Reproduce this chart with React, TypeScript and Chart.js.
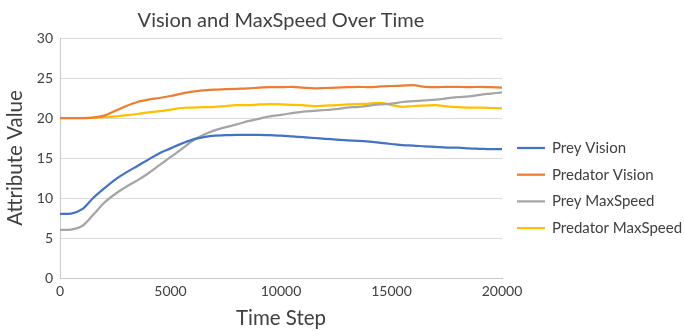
import React, { useEffect, useRef } from "react";
import { Chart, registerables } from "chart.js";

Chart.register(...registerables);

const chartTitle = "Vision and MaxSpeed Over Time";
const xAxisTitle = "Time Step";
const yAxisTitle = "Attribute Value";

const timeSteps = [
  0, 500, 1000, 1500, 2000, 2500, 3000, 3500, 4000, 4500, 5000, 5500, 6000, 6500,
  7000, 7500, 8000, 8500, 9000, 9500, 10000, 10500, 11000, 11500, 12000, 12500,
  13000, 13500, 14000, 14500, 15000, 15500, 16000, 16500, 17000, 17500, 18000,
  18500, 19000, 19500, 20000,
];

const preyVision = [
  8.0, 8.05, 8.6, 10.0, 11.2, 12.3, 13.2, 14.0, 14.8, 15.6, 16.2, 16.8, 17.3, 17.6,
  17.8, 17.85, 17.9, 17.9, 17.9, 17.85, 17.8, 17.7, 17.6, 17.5, 17.4, 17.3, 17.2,
  17.15, 17.05, 16.9, 16.75, 16.6, 16.55, 16.45, 16.4, 16.3, 16.3, 16.2, 16.15, 16.1,
  16.1,
];

const predatorVision = [
  20.0, 20.0, 20.0, 20.05, 20.3, 20.9, 21.5, 22.0, 22.3, 22.5, 22.75, 23.05, 23.3,
  23.45, 23.55, 23.6, 23.65, 23.7, 23.8, 23.85, 23.85, 23.9, 23.8, 23.7, 23.75, 23.8,
  23.85, 23.9, 23.85, 23.95, 24.0, 24.05, 24.1, 23.9, 23.85, 23.9, 23.9, 23.85, 23.9,
  23.85, 23.8,
];

const preyMaxSpeed = [
  6.0, 6.05, 6.5, 7.9, 9.4, 10.5, 11.4, 12.2, 13.1, 14.1, 15.1, 16.1, 17.15, 17.9,
  18.45, 18.85, 19.2, 19.6, 19.9, 20.2, 20.4, 20.6, 20.8, 20.9, 21.0, 21.1, 21.3, 21.4,
  21.55, 21.7, 21.8, 22.0, 22.1, 22.2, 22.3, 22.45, 22.6, 22.7, 22.9, 23.05, 23.2,
];

const predatorMaxSpeed = [
  20.0, 20.0, 20.0, 20.05, 20.1, 20.2, 20.35, 20.5, 20.7, 20.85, 21.05, 21.25, 21.3,
  21.35, 21.4, 21.5, 21.6, 21.6, 21.7, 21.75, 21.7, 21.65, 21.6, 21.5, 21.55, 21.6,
  21.7, 21.75, 21.8, 21.9, 21.6, 21.4, 21.5, 21.55, 21.6, 21.45, 21.35, 21.3, 21.3,
  21.25, 21.2,
];

const seriesNames = ["Prey Vision", "Predator Vision", "Prey MaxSpeed", "Predator MaxSpeed"];
const seriesValues = [preyVision, predatorVision, preyMaxSpeed, predatorMaxSpeed];
const seriesColors = ["#4472C4", "#ED7D31", "#A5A5A5", "#FFC000"];

const FONT = "Lato, 'Open Sans', sans-serif";
const TEXT = "#404040";

const legendPlugin = {
  id: "sideLegend",
  afterDraw(chart: any) {
    const ctx = chart.ctx;
    const area = chart.chartArea;
    const x0 = area.right + 15;
    const top = 148;
    const gap = 26.7;
    ctx.save();
    ctx.font = `15px ${FONT}`;
    ctx.textBaseline = "middle";
    ctx.textAlign = "left";
    chart.data.datasets.forEach((ds: any, i: number) => {
      const y = top + i * gap;
      ctx.strokeStyle = ds.borderColor;
      ctx.lineWidth = 2.25;
      ctx.beginPath();
      ctx.moveTo(x0, y);
      ctx.lineTo(x0 + 28, y);
      ctx.stroke();
      ctx.fillStyle = TEXT;
      ctx.fillText(ds.label, x0 + 35, y);
    });
    ctx.restore();
  },
};

export default function App() {
  const ref = useRef<HTMLCanvasElement | null>(null);

  useEffect(() => {
    if (!ref.current) return;
    const chart = new Chart(ref.current, {
      type: "line",
      data: {
        datasets: seriesNames.map((name, i) => ({
          label: name,
          data: timeSteps.map((t, j) => ({ x: t, y: seriesValues[i][j] })),
          borderColor: seriesColors[i],
          backgroundColor: seriesColors[i],
          borderWidth: 2.25,
          pointRadius: 0,
          cubicInterpolationMode: "monotone" as const,
          fill: false,
        })),
      },
      options: {
        responsive: false,
        animation: false,
        layout: { padding: { left: 0, right: 182, top: 0, bottom: 0 } },
        plugins: {
          legend: { display: false },
          tooltip: { enabled: false },
          title: {
            display: true,
            text: chartTitle,
            fullSize: false,
            color: TEXT,
            font: { family: FONT, size: 20, weight: "normal" },
            padding: { top: 9, bottom: 5 },
          },
        },
        scales: {
          x: {
            type: "linear",
            min: 0,
            max: 20000,
            ticks: {
              stepSize: 5000,
              color: TEXT,
              font: { family: FONT, size: 14 },
              padding: 5,
              maxRotation: 0,
              callback: (v: any) => String(v),
            },
            grid: { display: false, drawTicks: false },
            border: { display: true, color: "#c8c8c8", width: 1 },
            title: {
              display: true,
              text: xAxisTitle,
              color: TEXT,
              font: { family: FONT, size: 20.5 },
              padding: { top: 0, bottom: 0 },
            },
            afterFit: (s: any) => {
              s.height = 53;
              s.paddingLeft = 0;
              s.paddingRight = 0;
            },
          },
          y: {
            min: 0,
            max: 30,
            ticks: {
              stepSize: 5,
              color: TEXT,
              font: { family: FONT, size: 14 },
              padding: 7,
            },
            grid: { color: "#d9d9d9", drawTicks: false, lineWidth: 1 },
            border: { display: true, color: "#c8c8c8", width: 1 },
            title: {
              display: true,
              text: yAxisTitle,
              color: TEXT,
              font: { family: FONT, size: 20.5 },
              padding: { top: 3, bottom: 0 },
            },
            afterFit: (s: any) => {
              s.width = 60;
              s.paddingTop = 0;
              s.paddingBottom = 0;
            },
          },
        },
      },
      plugins: [legendPlugin],
    });
    return () => chart.destroy();
  }, []);

  return (
    <div style={{ position: "fixed", left: 0, top: 0, width: 684, height: 331, background: "#fff" }}>
      <canvas ref={ref} width={684} height={331} style={{ display: "block" }} />
    </div>
  );
}
